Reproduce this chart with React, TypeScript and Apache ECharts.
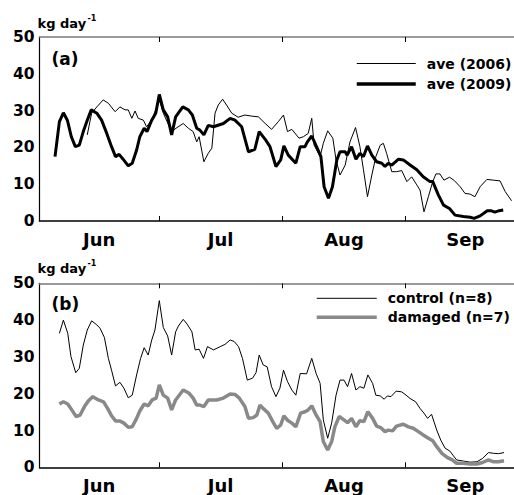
import React, { useEffect, useRef } from 'react';
import * as echarts from 'echarts';

// x values are days since 1 June
const monthNames = ['Jun', 'Jul', 'Aug', 'Sep'];
const monthMid = [15, 45.5, 76.5, 107];
const monthStarts = [30, 61, 92];
const xMax = 122;
const yMax = 50;
const yStep = 10;

const ave2006: [number, number][] = [
  [12, 23.4], [13.1, 29.3], [14.4, 31], [16, 32.9], [17.3, 32], [19, 29.7], [20.2, 31], [21.5, 30.2], [22.3, 30.2],
  [23.2, 27.9], [24, 29.9], [24.8, 27.9], [26.1, 27.4], [26.9, 25.6], [28.2, 27.4], [29.2, 30.2], [30.1, 32.9],
  [31.1, 29.3], [33.2, 24.3], [34.3, 25.2], [36.1, 26.5], [37.4, 25.2], [38.6, 24.3], [39.5, 21.5], [40.1, 22.9],
  [41.3, 16.1], [42.4, 18.4], [43.3, 19.8], [44.1, 29.3], [44.9, 31.5], [46, 33.1], [47, 31.5], [48.3, 29.3],
  [49.9, 28.2], [51.6, 28.8], [53.3, 28.5], [55, 28.3], [56.7, 26.5], [58.3, 24.9], [60, 27], [61.3, 28.8],
  [62.3, 24.3], [63.4, 24.9], [65.2, 22.5], [66.3, 22.9], [67.5, 23.8], [68.4, 27.9], [69, 20.6], [70.5, 17.5],
  [71.3, 21.1], [72.4, 24.5], [73.7, 22.5], [74.5, 16.6], [75.5, 12.5], [76.8, 15.2], [78, 21.5], [79.4, 25.4],
  [80.5, 20.2], [81.4, 13.9], [82.4, 6.6], [83.5, 12.5], [84.5, 17.5], [85.6, 20.6], [86.4, 21.1], [87.2, 18.4],
  [88.5, 13.4], [89.7, 13.4], [91, 13.7], [92.3, 10.7], [93.5, 12], [94.8, 9.8], [95.6, 8.4], [96.6, 2.5],
  [97.7, 6.6], [98.8, 10.7], [99.6, 12.8], [100.6, 12.8], [101.6, 11.1], [103, 11.9], [104.1, 11.1], [105.7, 9.3],
  [106.9, 7.5], [108.2, 7.3], [109.4, 6.6], [110.7, 9.3], [112.4, 11.3], [114, 11.1], [115.7, 10.9], [117, 8],
  [118.6, 5.5],
];

const ave2009: [number, number][] = [
  [3.9, 17.5], [5, 27], [6, 29.4], [7, 27.4], [8, 22.9], [9, 20.2], [10, 20.6], [11, 24.3], [12, 27.4], [13, 30.2],
  [14.4, 29.3], [15.6, 27.4], [16.9, 23.8], [18.1, 20.2], [19.1, 17.5], [20, 18.1], [21, 16.8], [22.3, 15],
  [23.3, 15.7], [24.4, 19.3], [25.2, 22.9], [26.3, 25.2], [27, 24.3], [28.2, 27.4], [29.2, 29.3], [30.1, 34.4],
  [31.1, 30.2], [32.2, 28.3], [33.2, 23.4], [34.2, 28.3], [36, 31], [37.4, 30.2], [38.4, 28.8], [39.5, 25.2],
  [40.3, 24.7], [41.3, 23.4], [42.4, 26], [43.7, 25.6], [46.2, 26.5], [47.9, 27.9], [49.1, 27.4], [50.8, 25.6],
  [52.5, 18.8], [54.1, 19.5], [55.2, 24.3], [56.7, 22.2], [57.9, 20.2], [59.4, 14.8], [60.6, 16.6], [61.4, 20.4],
  [62.5, 17.9], [64.4, 15.7], [65.5, 20.2], [66.7, 20.2], [67.3, 21.5], [68.4, 23.1], [69.6, 20.2], [70.7, 17.5],
  [71.5, 9.3], [72.6, 6.2], [73.6, 9.3], [74.7, 16.6], [75.5, 18.8], [76.8, 18.8], [77.3, 17.9], [78.4, 20.2],
  [79.5, 16.8], [80.5, 18.4], [81.4, 17.5], [82.4, 20.4], [83.5, 17.9], [84.7, 16.1], [86, 15.7], [86.8, 14.8],
  [87.6, 15.7], [88.5, 15.2], [90.2, 16.8], [91.4, 16.6], [93.1, 15.2], [94.8, 13.9], [96.4, 12], [98.1, 10.7],
  [98.8, 10.7], [100.2, 7.1], [101.5, 4.3], [103, 3.4], [104.4, 1.6], [106.5, 1.2], [108.2, 1.0], [109.2, 0.7],
  [110.7, 1.4], [112.5, 2.8], [113.4, 2.8], [114.4, 2.4], [115.5, 2.8], [116.5, 3.0],
];

const control: [number, number][] = [
  [5, 36.4], [6, 40], [7.1, 36.4], [7.9, 30.1], [9.1, 25.7], [10, 26.9], [11, 33.2], [12, 37.3], [13.1, 39.8],
  [14.4, 38.7], [15.2, 37.8], [16.3, 35.3], [17.3, 29.6], [18.1, 26.4], [19.1, 22.1], [20.2, 23.1], [21.2, 21.5],
  [22.3, 18.9], [23.3, 19.6], [24.4, 25.1], [25.4, 29.6], [26.3, 32.5], [27.3, 30.5], [28.2, 34.6], [29, 37.3],
  [30.1, 45.3], [31.1, 38], [32.2, 35.7], [33.2, 30.5], [34.2, 36.8], [34.9, 38.4], [36.1, 40.2], [37.1, 38.9],
  [38.3, 36.8], [39.1, 31.9], [40.1, 32.1], [41.2, 29.6], [42.2, 32.8], [43.7, 31.9], [45.4, 32.8], [46.6, 33.4],
  [47.9, 34.6], [48.9, 34.2], [50, 32.8], [51, 29.6], [52.2, 23.7], [53.5, 24.2], [54.4, 25.7], [55.2, 30.5],
  [56.2, 27.8], [57.2, 27.3], [58.3, 21.9], [59.4, 19.2], [60.4, 21.5], [61.3, 26.4], [62.3, 23.3], [63.4, 21],
  [64.4, 19.6], [65.5, 25.5], [67.1, 25.4], [68.4, 29.6], [69.5, 25.5], [70.5, 22.8], [71.3, 12.9], [72.4, 7.9],
  [73.4, 12], [74.5, 19.6], [75.5, 23.7], [76.5, 23.7], [77.4, 21.9], [78.4, 25.5], [79.5, 21], [80.5, 21.9],
  [81.5, 21.5], [82.5, 25.1], [83.7, 22.8], [84.5, 19.6], [85.6, 19.4], [86.6, 18.5], [87.4, 19.4], [88.3, 19.2],
  [89.6, 20.7], [91, 20.5], [92.1, 19.6], [93.1, 18.7], [94.5, 17.8], [95.6, 16], [96.6, 14.7], [97.5, 13.3],
  [98.5, 14.4], [99.8, 10.1], [100.8, 7.4], [101.9, 5.2], [103.1, 4.4], [104, 3.1], [104.8, 2], [106.5, 1.7],
  [108.2, 1.4], [109.9, 1.5], [111.3, 2.4], [112.8, 4], [114.1, 3.8], [115.3, 3.7], [116.7, 4],
];

const damaged: [number, number][] = [
  [5, 17.2], [6, 17.8], [7.1, 17.2], [8.1, 15.6], [9.2, 13.8], [10.2, 14.2], [11.3, 16.5], [12.3, 18.1],
  [13.4, 19.2], [14.8, 18.3], [16.1, 17.8], [17.1, 16], [18.1, 14], [19.1, 12.6], [20.2, 12.6], [21.2, 12],
  [22.3, 10.9], [23.3, 11], [24.4, 13.3], [25.2, 15.3], [26.3, 17.2], [27.3, 16.7], [28.3, 18.3], [29.3, 18.8],
  [30.1, 22.4], [31.1, 19.6], [32.2, 18.8], [33.2, 15.6], [34.2, 18.3], [36.1, 21], [37.6, 20.1], [38.6, 18.8],
  [39.5, 16.9], [40.3, 16.9], [41.3, 16.5], [42.4, 18.3], [44.5, 18.3], [46.2, 18.8], [47.9, 19.9], [49.1, 19.8],
  [50.2, 18.8], [51.6, 16.5], [52.5, 13.3], [53.7, 13.5], [54.6, 14.2], [55.4, 16.9], [56.4, 15.8], [57.5, 14.7],
  [58.6, 12.4], [59.6, 10.6], [60.6, 11.5], [61.4, 14], [62.4, 12.7], [63.4, 12], [64.4, 11], [65.6, 14.7],
  [66.7, 15.1], [67.5, 15.6], [68.4, 16.7], [69.4, 14.4], [70.5, 12.4], [71.3, 7], [72.4, 4.7], [73.4, 7],
  [74.2, 11], [75.3, 13.8], [76.5, 12.9], [77.4, 12.1], [78.4, 13.3], [79.5, 11], [80.5, 12.7], [81.5, 12.4],
  [82.5, 15.1], [83.7, 13.3], [84.7, 11.2], [85.7, 10.8], [86.8, 9.7], [87.6, 10.1], [88.7, 9.9], [89.7, 11.2],
  [91.4, 11.7], [92.7, 11], [93.9, 10.6], [95.2, 9.7], [96.4, 8.8], [97.7, 7.9], [98.8, 7.2], [99.8, 5.6],
  [101.1, 3.8], [102.4, 2.7], [103.7, 2], [104.8, 1.1], [106.5, 1.1], [108.2, 0.9], [109.9, 0.9], [111.3, 1.3],
  [112.8, 2], [114.1, 1.5], [115.3, 1.5], [116.7, 1.8],
];

const FONT = 'DejaVu Sans';
const GRAY = '#898989';

function monthLabel(v: number): string {
  let best = 0;
  for (let i = 1; i < monthMid.length; i++) {
    if (Math.abs(monthMid[i] - v) < Math.abs(monthMid[best] - v)) best = i;
  }
  return monthNames[best];
}

function xAxesFor(gridIndex: number) {
  return [
    {
      type: 'value', gridIndex, min: 0, max: xMax, position: 'bottom',
      axisLine: { show: true, onZero: false, lineStyle: { color: '#000', width: 1.5 } },
      axisTick: { show: true, inside: true, length: 5, customValues: monthStarts, lineStyle: { color: '#000', width: 1 } },
      axisLabel: {
        show: true, customValues: monthMid, formatter: (v: number) => monthLabel(v), margin: 9,
        fontFamily: FONT, fontWeight: 'bold', fontSize: 18, color: '#000',
      },
      splitLine: { show: false },
    },
    {
      type: 'value', gridIndex, min: 0, max: xMax, position: 'top',
      axisLine: { show: true, onZero: false, lineStyle: { color: '#7a7a7a', width: 1.5 } },
      axisTick: { show: true, inside: true, length: 5, customValues: monthStarts, lineStyle: { color: '#000', width: 1 } },
      axisLabel: { show: false },
      splitLine: { show: false },
    },
  ];
}

function yAxisFor(gridIndex: number) {
  return {
    type: 'value', gridIndex, min: 0, max: yMax, interval: yStep,
    axisLine: { show: true, onZero: false, lineStyle: { color: '#000', width: 1.2 } },
    axisTick: { show: false },
    splitLine: { show: false },
    axisLabel: { fontFamily: FONT, fontWeight: 'bold', fontSize: 15.5, color: '#000', margin: 5 },
  };
}

const legendText = { fontFamily: FONT, fontWeight: 'bold' as const, fontSize: 14, color: '#000', padding: [0, 0, 0, 6] };

function unitLabel(yMid: number) {
  return [
    { type: 'text', x: 37.5, y: yMid, style: { text: 'kg day', font: `bold 13px "${FONT}"`, fill: '#000', verticalAlign: 'middle', align: 'left' } },
    { type: 'text', x: 87.5, y: yMid - 4.5, style: { text: '-1', font: `bold 8px "${FONT}"`, fill: '#000', verticalAlign: 'middle', align: 'left' } },
  ];
}

export default function App() {
  const ref = useRef<HTMLDivElement>(null);
  useEffect(() => {
    if (!ref.current) return;
    const chart = echarts.init(ref.current, null, { renderer: 'svg' });
    const option: any = {
      animation: false,
      backgroundColor: '#fff',
      grid: [
        { left: 39.5, top: 37, width: 485.6, height: 184 },
        { left: 39.5, top: 283.3, width: 485.6, height: 184 },
      ],
      xAxis: [...xAxesFor(0), ...xAxesFor(1)],
      yAxis: [yAxisFor(0), yAxisFor(1)],
      legend: [
        {
          data: [
            { name: 'ave (2006)', lineStyle: { width: 1, color: '#000' } },
            { name: 'ave (2009)', lineStyle: { width: 3.5, color: '#000' } },
          ],
          left: 355, top: 56.5, orient: 'vertical',
          itemWidth: 59, itemHeight: 14, itemGap: 6.5, padding: 0, textStyle: legendText,
          itemStyle: { opacity: 0 },
        },
        {
          data: [
            { name: 'control (n=8)', lineStyle: { width: 1, color: '#000' } },
            { name: 'damaged (n=7)', lineStyle: { width: 3.5, color: GRAY } },
          ],
          left: 315, top: 291.3, orient: 'vertical',
          itemWidth: 60, itemHeight: 14, itemGap: 5, padding: 0, textStyle: legendText,
          itemStyle: { opacity: 0 },
        },
      ],
      graphic: [
        ...unitLabel(23),
        ...unitLabel(268),
        { type: 'text', x: 51.5, y: 58.5, style: { text: '(a)', font: `bold 17px "${FONT}"`, fill: '#000', verticalAlign: 'middle' } },
        { type: 'text', x: 51.5, y: 304, style: { text: '(b)', font: `bold 17px "${FONT}"`, fill: '#000', verticalAlign: 'middle' } },
      ],
      series: [
        { name: 'ave (2006)', type: 'line', xAxisIndex: 0, yAxisIndex: 0, data: ave2006, symbol: 'none', lineStyle: { color: '#000', width: 1 }, itemStyle: { color: '#000' } },
        { name: 'ave (2009)', type: 'line', xAxisIndex: 0, yAxisIndex: 0, data: ave2009, symbol: 'none', lineStyle: { color: '#000', width: 3 }, itemStyle: { color: '#000' } },
        { name: 'control (n=8)', type: 'line', xAxisIndex: 2, yAxisIndex: 1, data: control, symbol: 'none', lineStyle: { color: '#000', width: 1 }, itemStyle: { color: '#000' } },
        { name: 'damaged (n=7)', type: 'line', xAxisIndex: 2, yAxisIndex: 1, data: damaged, symbol: 'none', lineStyle: { color: GRAY, width: 3.5 }, itemStyle: { color: GRAY } },
      ],
    };
    chart.setOption(option);
    return () => chart.dispose();
  }, []);
  return (
    <div style={{ position: 'fixed', left: 0, top: 0, width: 514, height: 495, overflow: 'hidden', background: '#fff' }}>
      <div ref={ref} style={{ width: 540, height: 495 }} />
    </div>
  );
}
